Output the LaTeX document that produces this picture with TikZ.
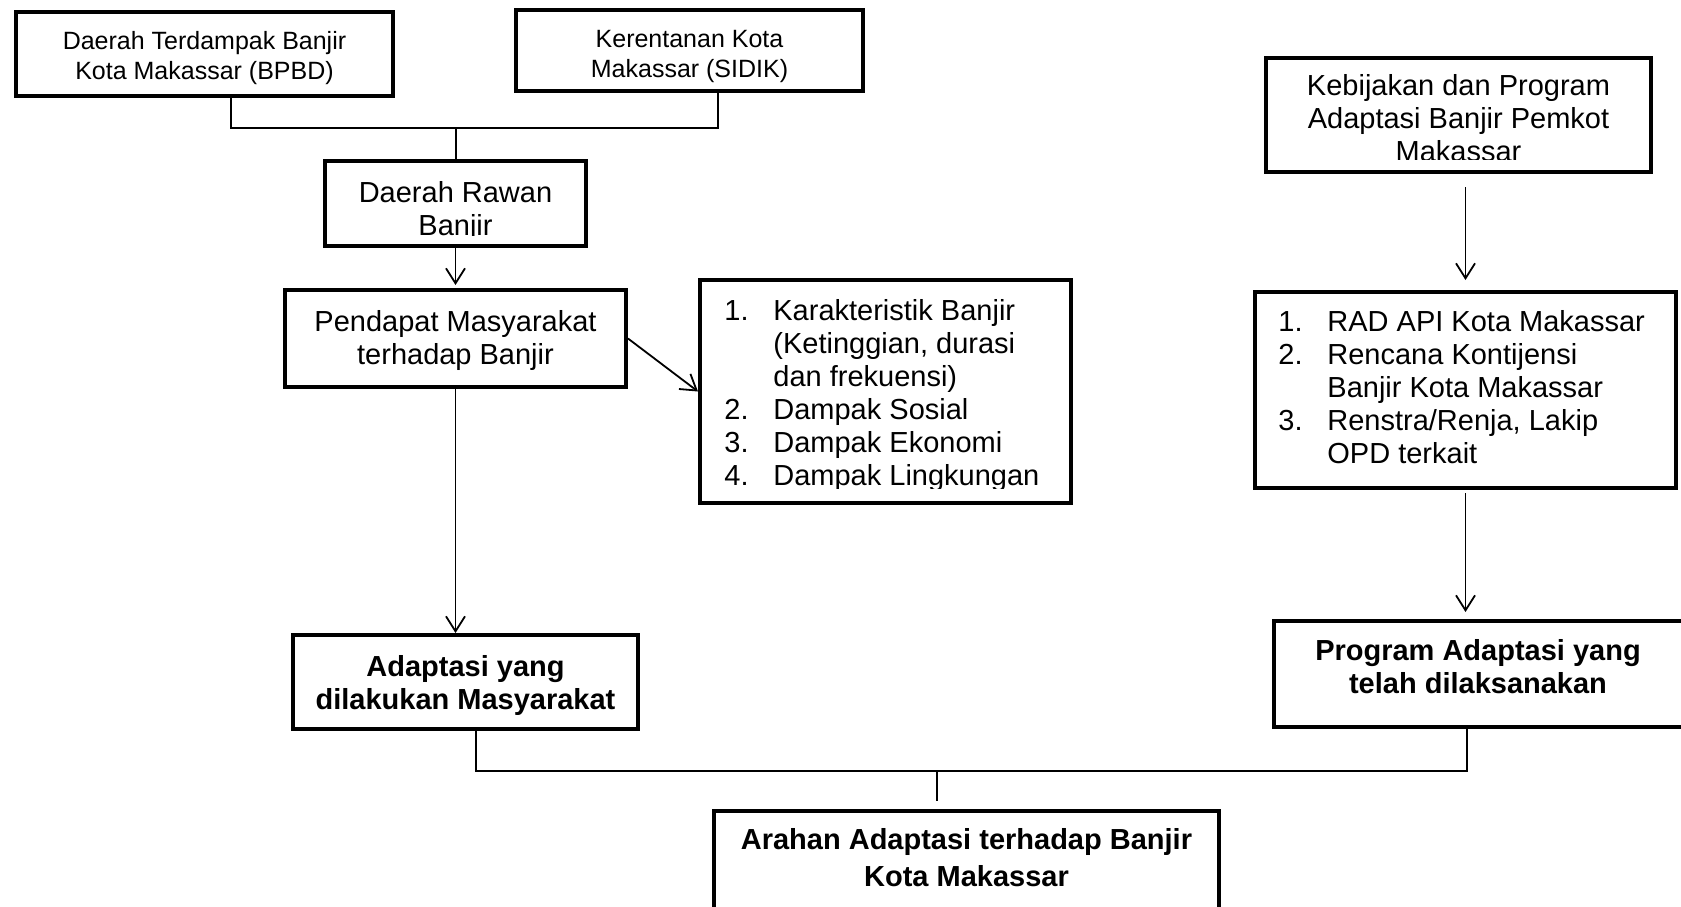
\documentclass[tikz,border=0pt]{standalone}
\usepackage{fontspec}
\setmainfont{Liberation Sans}
\usetikzlibrary{arrows.meta}
\begin{document}
\begin{tikzpicture}[x=0.5pt,y=-0.5pt,
  box/.style={draw=black, line width=2pt, fill=white, inner sep=0pt},
  txt/.style={inner sep=0pt, anchor=base, font=\fontsize{14.5}{16.5}\selectfont},
  txtsmall/.style={inner sep=0pt, anchor=base, font=\fontsize{12.5}{15}\selectfont},
  txtbold/.style={inner sep=0pt, anchor=base, font=\bfseries\fontsize{14.5}{16.5}\selectfont},
  listtxt/.style={inner sep=0pt, anchor=base west, font=\fontsize{14.5}{16.5}\selectfont},
  conn/.style={draw=black, line width=0.9pt},
  arr/.style={conn, -{Straight Barb[length=7.5pt,width=9.5pt]}}]
\path[fill=white, use as bounding box] (0,0) rectangle (1681,906);
\clip (0,0) rectangle (1681,906);

% boxes
\node[box, minimum width=188.5pt, minimum height=42pt]   (A) at (204.5,54)   {};
\node[box, minimum width=173.5pt, minimum height=40.5pt] (B) at (689.5,50.5) {};
\node[box, minimum width=130.5pt, minimum height=42.5pt] (C) at (455.5,203.5) {};
\node[box, minimum width=170.5pt, minimum height=48.5pt] (D) at (455.5,338.5) {};
\node[box, minimum width=185.5pt, minimum height=111.5pt] (E) at (885.5,391.5) {};
\node[box, minimum width=172.5pt, minimum height=47pt]   (F) at (465.5,682)  {};
\node[box, minimum width=192.5pt, minimum height=57pt]   (G) at (1458.5,115) {};
\node[box, minimum width=210.5pt, minimum height=98pt]   (H) at (1465.5,390) {};
\node[box, minimum width=207pt,   minimum height=53pt]   (I) at (1481,674)   {};
\node[box, minimum width=252.5pt, minimum height=51pt]   (J) at (966.5,862)  {};

% texts
\node[txtsmall] (At) at (204.5,49) {\begin{tabular}[t]{@{}c@{}}Daerah Terdampak Banjir\\Kota Makassar (BPBD)\end{tabular}};
\node[txtsmall] (Bt) at (689.5,47) {\begin{tabular}[t]{@{}c@{}}Kerentanan Kota\\Makassar (SIDIK)\end{tabular}};
\begin{scope}
\clip (330,165) rectangle (582,235.5);
\node[txt] (Ct) at (455.5,202) {\begin{tabular}[t]{@{}c@{}}Daerah Rawan\\Banjir\end{tabular}};
\end{scope}
\node[txt] (Dt) at (455.5,331) {\begin{tabular}[t]{@{}c@{}}Pendapat Masyarakat\\terhadap Banjir\end{tabular}};
\begin{scope}
\clip (705,285) rectangle (1066,488);
\node[listtxt] (Et) at (724,320) {\begin{tabular}[t]{@{}p{24.5pt}@{}l@{}}
1.&Karakteristik Banjir\\
&(Ketinggian, durasi\\
&dan frekuensi)\\
2.&Dampak Sosial\\
3.&Dampak Ekonomi\\
4.&Dampak Lingkungan
\end{tabular}};
\end{scope}
\node[txtbold] (Ft) at (465.5,676) {\begin{tabular}[t]{@{}c@{}}Adaptasi yang\\dilakukan Masyarakat\end{tabular}};
\begin{scope}
\clip (1270,62) rectangle (1648,159.5);
\node[txt] (Gt) at (1458.5,95) {\begin{tabular}[t]{@{}c@{}}Kebijakan dan Program\\Adaptasi Banjir Pemkot\\Makassar\end{tabular}};
\end{scope}
\node[listtxt] (Ht) at (1278,331) {\begin{tabular}[t]{@{}p{24.5pt}@{}l@{}}
1.&RAD API Kota Makassar\\
2.&Rencana Kontijensi\\
&Banjir Kota Makassar\\
3.&Renstra/Renja, Lakip\\
&OPD terkait
\end{tabular}};
\node[txtbold] (It) at (1478,660) {\begin{tabular}[t]{@{}c@{}}Program Adaptasi yang\\telah dilaksanakan\end{tabular}};
\node[txtbold, font=\bfseries\fontsize{14.5}{18.5}\selectfont] (Jt) at (966.5,849) {\begin{tabular}[t]{@{}c@{}}Arahan Adaptasi terhadap Banjir\\Kota Makassar\end{tabular}};

% junction points
\coordinate (ja) at (231,128);
\coordinate (jb) at (718,128);
\coordinate (jc) at (456,128);
\coordinate (jf) at (476,771);
\coordinate (ji) at (1467,771);
\coordinate (jm) at (937,771);

% connectors
\draw[conn] (A.south -| ja) -- (ja) -- (jb) -- (B.south -| jb);
\draw[conn] (jc) -- (C.north -| jc);
\draw[arr] (C.south) -- ([yshift=1.5pt]C.south |- D.north);
\draw[arr] (D.east) -- (E.west);
\draw[arr] (D.south) -- (D.south |- F.north);
\draw[arr] ([yshift=-6.5pt]G.south -| H.north) -- ([yshift=5pt]H.north);
\draw[arr] ([yshift=-1.5pt]H.south) -- ([yshift=3.5pt]H.south |- I.north);
\draw[conn] (F.south -| jf) -- (jf) -- (ji) -- (I.south -| ji);
\draw[conn] (jm) -- ([yshift=4pt]J.north -| jm);
\end{tikzpicture}
\end{document}
